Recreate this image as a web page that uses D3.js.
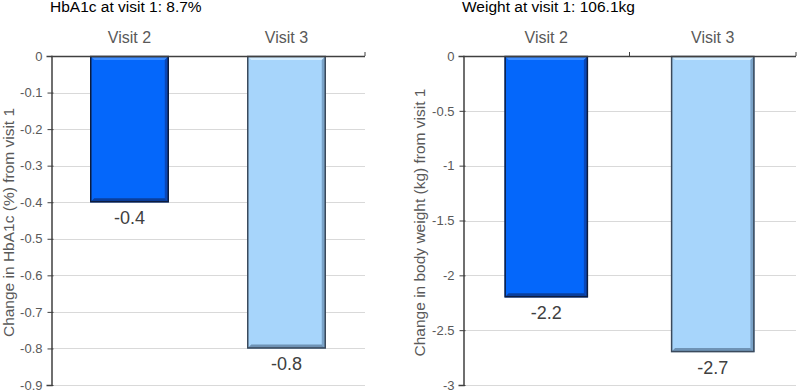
<!DOCTYPE html>
<html lang="en">
<head>
    <meta charset="UTF-8">
    <title>HbA1c and weight change</title>
    <style>
        html, body {
            margin: 0px;
            padding: 0px;
            background-color: white;
            font-family: 'Liberation Sans', Arial, sans-serif;
        }
        #vis {
            width: 797px;
            height: 390px;
        }
        .grid line {
            stroke: #d9d9d9;
            stroke-width: 1px;
        }
        text.title {
            font-size: 15.5px;
            fill: #000;
        }
        text.cat {
            font-size: 16px;
            fill: #595959;
        }
        text.ylab {
            font-size: 15.5px;
            fill: #595959;
        }
        text.label {
            font-size: 18px;
            fill: #404040;
        }
        .y.axis text {
            font-size: 13px;
            fill: #595959;
        }
    </style>
</head>
<body>
    <div id="vis"></div>
    <script src="https://d3js.org/d3.v7.min.js"></script>
    <script>

        // data
        var visits = ["Visit 2", "Visit 3"];
        var hba1cChange = [-0.4, -0.8];
        var weightChange = [-2.2, -2.7];
        var hba1cTicks = [0, -0.1, -0.2, -0.3, -0.4, -0.5, -0.6, -0.7, -0.8, -0.9];
        var weightTicks = [0, -0.5, -1, -1.5, -2, -2.5, -3];
        var titles = ["HbA1c at visit 1: 8.7%", "Weight at visit 1: 106.1kg"];
        var yTitles = ["Change in HbA1c (%) from visit 1", "Change in body weight (kg) from visit 1"];

        var barColours = [
            {main: "#0467fb", top: "#3d8cff", side: "#0a47b8", bottom: "#0a3f9e", edge: "#0c1c3e"},
            {main: "#a7d5fb", top: "#d2ecff", side: "#7aa3c8", bottom: "#6f93b5", edge: "#3b4a5c"}
        ];

        var svg = d3.select("#vis")
            .append("svg")
            .attr("width", 797)
            .attr("height", 390);

        var top0 = 56, bottom0 = 385;

        function drawPanel(opts) {
            var g = svg.append("g");

            var x = d3.scaleBand()
                .domain(visits)
                .range([opts.left, opts.right])
                .paddingInner(0.5)
                .paddingOuter(0.25);

            var y = d3.scaleLinear()
                .domain([0, opts.min])
                .range([top0, bottom0]);

            // grid lines
            g.append("g")
                .attr("class", "grid")
                .selectAll("line")
                .data(opts.ticks.slice(1))
                .enter()
                .append("line")
                .attr("x1", opts.left)
                .attr("x2", opts.right)
                .attr("y1", function(d){ return Math.round(y(d)) + 0.5; })
                .attr("y2", function(d){ return Math.round(y(d)) + 0.5; });

            // bars with a bevel look
            var bars = g.selectAll(".bar")
                .data(opts.values)
                .enter()
                .append("g")
                .attr("class", "bar");

            bars.each(function(d, i){
                var b = d3.select(this);
                var c = barColours[i];
                var x0 = x(visits[i]), x1 = x0 + x.bandwidth();
                var y0 = y(0), y1 = y(d);
                var bv = 4;
                b.append("rect")
                    .attr("x", x0).attr("y", y0)
                    .attr("width", x1 - x0).attr("height", y1 - y0)
                    .attr("fill", c.main);
                b.append("path")
                    .attr("fill", c.top)
                    .attr("d", "M" + x0 + "," + y0 + "L" + x1 + "," + y0 + "L" + (x1 - bv) + "," + (y0 + bv) + "L" + (x0 + bv) + "," + (y0 + bv) + "Z");
                b.append("path")
                    .attr("fill", c.side)
                    .attr("d", "M" + x1 + "," + y0 + "L" + x1 + "," + y1 + "L" + (x1 - bv) + "," + (y1 - bv) + "L" + (x1 - bv) + "," + (y0 + bv) + "Z");
                b.append("path")
                    .attr("fill", c.bottom)
                    .attr("d", "M" + x0 + "," + y1 + "L" + x1 + "," + y1 + "L" + (x1 - bv) + "," + (y1 - bv) + "L" + (x0 + bv) + "," + (y1 - bv) + "Z");
                b.append("rect")
                    .attr("x", x0 + 0.5).attr("y", y0 + 0.5)
                    .attr("width", x1 - x0 - 1).attr("height", y1 - y0 - 1)
                    .attr("fill", "none")
                    .attr("stroke", c.edge)
                    .attr("stroke-width", 1.5);
            });

            // value labels under the bars
            g.selectAll(".label")
                .data(opts.values)
                .enter()
                .append("text")
                .attr("class", "label")
                .attr("text-anchor", "middle")
                .attr("x", function(d, i){ return x(visits[i]) + x.bandwidth() / 2; })
                .attr("y", function(d){ return y(d) + 22; })
                .text(function(d){ return d; });

            // category axis line at zero
            g.append("line")
                .attr("x1", opts.left).attr("x2", opts.right)
                .attr("y1", y(0) + 0.5).attr("y2", y(0) + 0.5)
                .attr("stroke", "#404040")
                .attr("stroke-width", 1.5);

            var ends = opts.midTick ? [opts.left, (opts.left + opts.right) / 2, opts.right] : [opts.left, opts.right];
            g.selectAll(".ctick")
                .data(ends.slice(1))
                .enter()
                .append("line")
                .attr("x1", function(d){ return d; })
                .attr("x2", function(d){ return d; })
                .attr("y1", y(0) - 4)
                .attr("y2", y(0))
                .attr("stroke", "#404040");

            g.selectAll(".cat")
                .data(visits)
                .enter()
                .append("text")
                .attr("class", "cat")
                .attr("text-anchor", "middle")
                .attr("x", function(d){ return x(d) + x.bandwidth() / 2; })
                .attr("y", 43)
                .text(function(d){ return d; });

            // value axis
            var yAxis = d3.axisLeft(y)
                .tickValues(opts.ticks)
                .tickSize(5)
                .tickPadding(4)
                .tickFormat(function(d){ return d3.format("")(+d.toFixed(2)).replace("−", "-"); });

            var ya = g.append("g")
                .attr("class", "y axis")
                .attr("transform", "translate(" + (opts.left + 0.5) + ",0)")
                .call(yAxis);
            ya.select(".domain").attr("stroke", "#404040").attr("stroke-width", 1.5);
            ya.selectAll(".tick line").attr("stroke", "#404040").attr("x2", -4).attr("x1", 2);

            g.append("text")
                .attr("class", "title")
                .attr("x", opts.left - 1)
                .attr("y", 12)
                .text(opts.title);

            g.append("text")
                .attr("class", "ylab")
                .attr("text-anchor", "middle")
                .attr("transform", "translate(" + opts.yLabX + "," + ((top0 + bottom0) / 2 + 2) + ") rotate(-90)")
                .text(opts.yTitle);
        }

        drawPanel({left: 51, right: 365, min: -0.9, ticks: hba1cTicks, values: hba1cChange,
                   title: titles[0], yTitle: yTitles[0], yLabX: 14, midTick: false});
        drawPanel({left: 463, right: 796, min: -3, ticks: weightTicks, values: weightChange,
                   title: titles[1], yTitle: yTitles[1], yLabX: 425, midTick: true});

    </script>
</body>
</html>
